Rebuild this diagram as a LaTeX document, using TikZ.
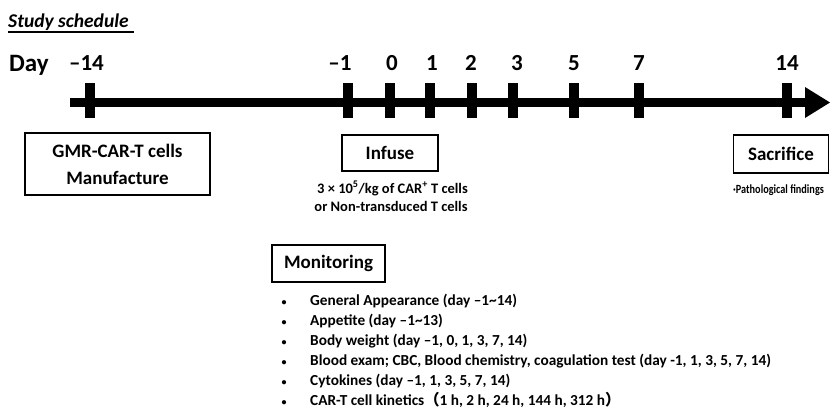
\documentclass[tikz,border=0pt]{standalone}
\usepackage{fontspec}
\setmainfont{Carlito}
\newfontfamily\cjkfont{Noto Sans CJK JP}
\begin{document}
\begin{tikzpicture}[x=1pt,y=-1pt,
  txt/.style={inner sep=0pt, font=\bfseries},
  daylbl/.style={inner sep=0pt, anchor=base, font=\fontsize{23}{26}\selectfont\bfseries},
  boxed/.style={draw, line width=1.8pt, inner sep=0pt, align=center, font=\fontsize{19}{27}\selectfont\bfseries},
  tickmark/.style={line width=10pt},
  item/.style={inner sep=0pt, anchor=base west, font=\fontsize{15.3}{18}\selectfont\bfseries},
  dot/.style={inner sep=0pt, anchor=base, font=\fontsize{10}{12}\selectfont\bfseries}
]
\useasboundingbox (0,0) rectangle (830,408);
% title
\node[txt, anchor=base west, font=\fontsize{19.5}{22}\selectfont\bfseries\itshape] (title) at (8,27) {Study schedule};
\draw[line width=1.3pt] ([yshift=-5pt]title.base west) -- ++(126,0);
% Day
\node[txt, anchor=base west, font=\fontsize{25}{28}\selectfont\bfseries] (day) at (9,71) {Day};
% axis
\coordinate (axs) at (70,102.5);
\coordinate (axe) at (810,102.5);
\draw[line width=9.5pt] (axs) -- (axe);
\fill (805,87) -- (830,102.5) -- (805,118) -- cycle;
\foreach \x in {90,348,390,430,472,513,574,639,787}
  \draw[tickmark] (\x,83) -- (\x,118);
% day labels
\node[daylbl] (dm14) at (86.5,70) {–14};
\node[daylbl] (dm1) at (340,70) {–1};
\node[daylbl] (d0) at (392,70) {0};
\node[daylbl] (d1) at (432,70) {1};
\node[daylbl] (d2) at (471,70) {2};
\node[daylbl] (d3) at (517,70) {3};
\node[daylbl] (d5) at (574,70) {5};
\node[daylbl] (d7) at (639,70) {7};
\node[daylbl] (d14) at (787,70) {14};
% boxes
\node[boxed, minimum width=185pt, minimum height=62pt] (gmr) at (117.5,164) {GMR-CAR-T cells\\Manufacture};
\node[boxed, minimum width=96pt, minimum height=36pt] (infuse) at (390,153) {Infuse};
\node[boxed, minimum width=95pt, minimum height=38pt] (sac) at (781,154) {Sacrifice};
\node[boxed, minimum width=113pt, minimum height=37pt] (mon) at (328.5,263.5) {Monitoring};
% notes
\node[txt, anchor=base, font=\fontsize{14.5}{17}\selectfont\bfseries] (dose1) at (392.5,193)
  {3 × 10\textsuperscript{5}/kg of CAR\textsuperscript{+} T cells};
\node[txt, anchor=base, font=\fontsize{14.5}{17}\selectfont\bfseries] (dose2) at (391,211)
  {or Non-transduced T cells};
\node[txt, anchor=base west, font=\fontsize{12.5}{14}\selectfont\bfseries] (path) at (733,193)
  {\scalebox{0.82}[1]{·Pathological findings}};
% monitoring list
\foreach \i/\t in {0/{General Appearance (day –1\char`\~14)},
                   1/{Appetite (day –1\char`\~13)},
                   2/{Body weight (day –1, 0, 1, 3, 7, 14)},
                   3/{Blood exam; CBC, Blood chemistry, coagulation test (day -1, 1, 3, 5, 7, 14)},
                   4/{Cytokines (day –1, 1, 3, 5, 7, 14)},
                   5/{CAR-T cell kinetics{\cjkfont\bfseries （}1 h, 2 h, 24 h, 144 h, 312 h{\cjkfont\bfseries ）}}}
{
  \node[dot] (b\i) at (284,305.5+20*\i) {•};
  \node[item] (t\i) at (310,305.5+20*\i) {\t};
}
\end{tikzpicture}
\end{document}
